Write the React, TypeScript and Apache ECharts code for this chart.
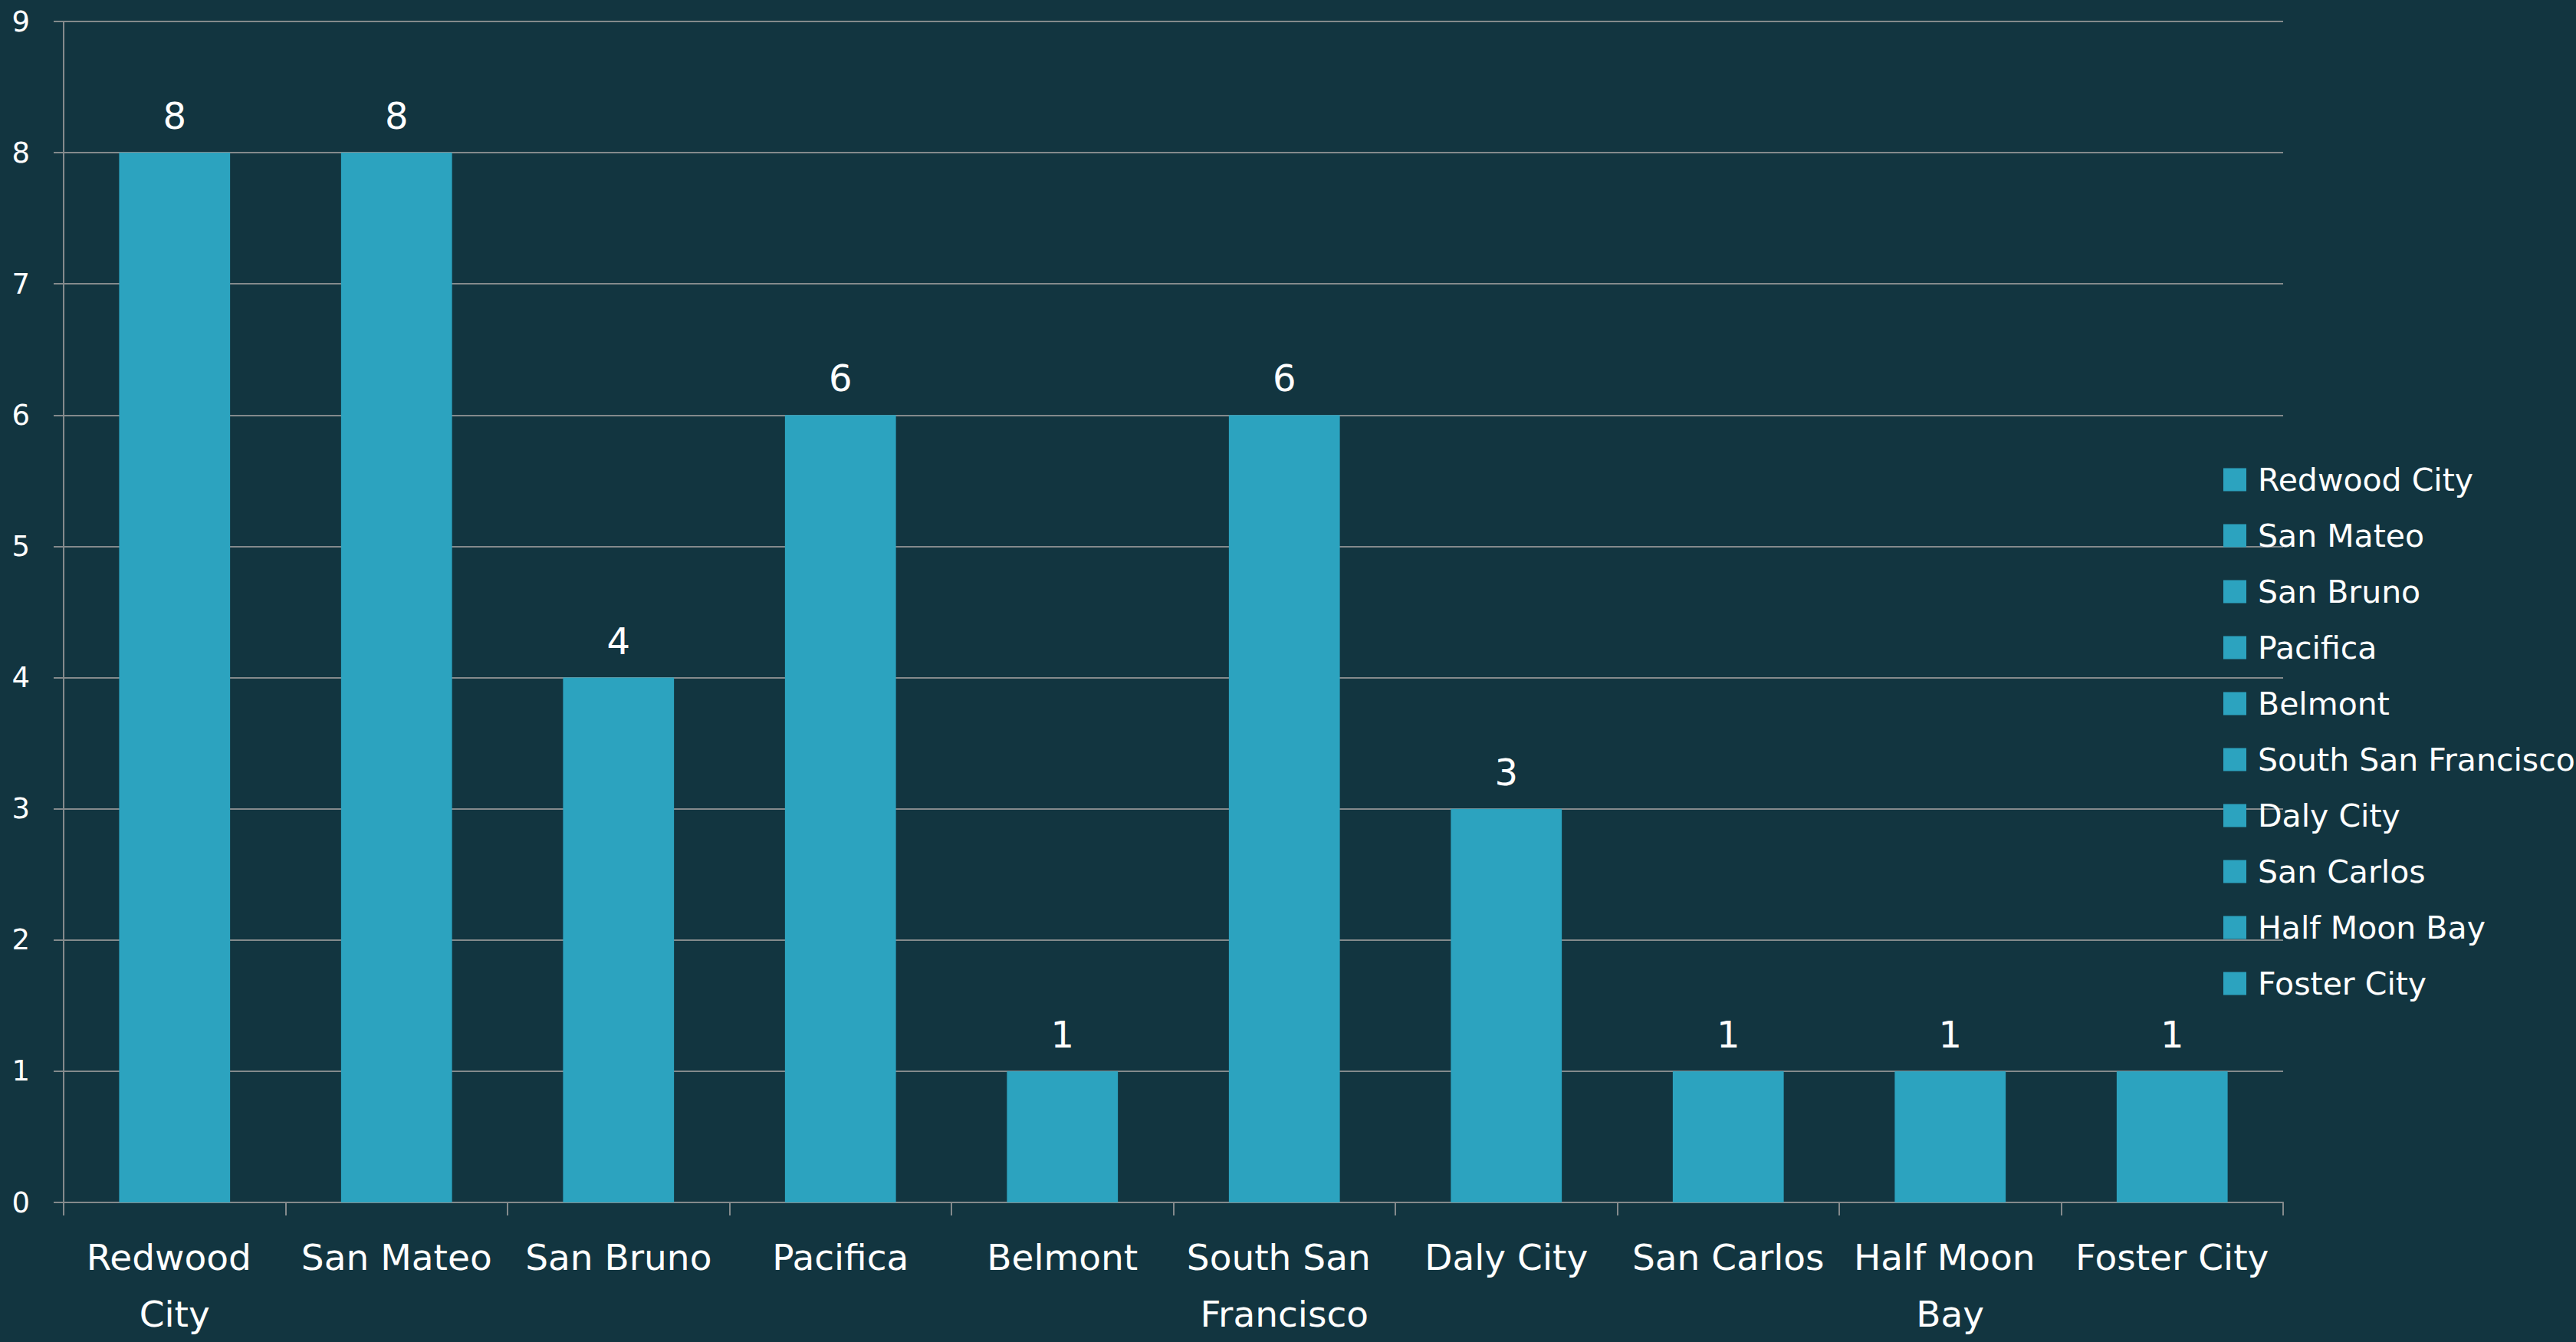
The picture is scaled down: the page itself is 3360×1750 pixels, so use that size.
import React, { useEffect, useRef } from "react";
import * as echarts from "echarts";

const categories = [
  "Redwood City",
  "San Mateo",
  "San Bruno",
  "Pacifica",
  "Belmont",
  "South San Francisco",
  "Daly City",
  "San Carlos",
  "Half Moon Bay",
  "Foster City",
];
const values = [8, 8, 4, 6, 1, 6, 3, 1, 1, 1];
const yTicks = [0, 1, 2, 3, 4, 5, 6, 7, 8, 9];

const BG = "#123540";
const BAR = "#2ca3bf";
const GRID = "#848a8c";
const FONT = "DejaVu Sans";

export default function App() {
  const ref = useRef<HTMLDivElement>(null);
  useEffect(() => {
    if (!ref.current) return;
    const chart = echarts.init(ref.current, undefined, { renderer: "svg" });
    const series = categories.map((name, i) => ({
      name,
      type: "bar",
      stack: "all",
      barWidth: "50%",
      itemStyle: { color: BAR },
      data: categories.map((_, j) => (j === i ? values[i] : null)),
      label: {
        show: true,
        position: "top",
        distance: 24,
        color: "#ffffff",
        fontFamily: FONT,
        fontSize: 48,
      },
    }));
    chart.setOption({
      animation: false,
      backgroundColor: BG,
      textStyle: { fontFamily: FONT },
      grid: { left: 83, right: 382, top: 28, bottom: 173, containLabel: false },
      legend: {
        orient: "vertical",
        left: 2900,
        top: 605,
        padding: 0,
        itemWidth: 30,
        itemHeight: 30,
        itemGap: 32,
        icon: "rect",
        data: categories,
        textStyle: {
          color: "#ffffff",
          fontFamily: FONT,
          fontSize: 41,
          padding: [0, 0, 0, 10],
        },
      },
      xAxis: {
        type: "category",
        data: categories,
        axisLine: { show: true, lineStyle: { color: GRID, width: 2 } },
        axisTick: { show: true, length: 17, alignWithLabel: false, lineStyle: { color: GRID, width: 2 } },
        axisLabel: {
          interval: 0,
          color: "#ffffff",
          fontFamily: FONT,
          fontSize: 47,
          lineHeight: 74,
          margin: 34,
          width: 270,
          overflow: "break",
        },
      },
      yAxis: {
        type: "value",
        min: yTicks[0],
        max: yTicks[yTicks.length - 1],
        interval: 1,
        axisLine: { show: true, lineStyle: { color: GRID, width: 2 } },
        axisTick: { show: true, length: 13, lineStyle: { color: GRID, width: 2 } },
        splitLine: { show: true, lineStyle: { color: GRID, width: 2 } },
        axisLabel: {
          color: "#ffffff",
          fontFamily: FONT,
          fontSize: 37,
          margin: 44,
        },
      },
      series,
    });
    return () => chart.dispose();
  }, []);
  return (
    <div
      ref={ref}
      style={{ position: "fixed", left: 0, top: 0, width: 3360, height: 1750 }}
    />
  );
}
